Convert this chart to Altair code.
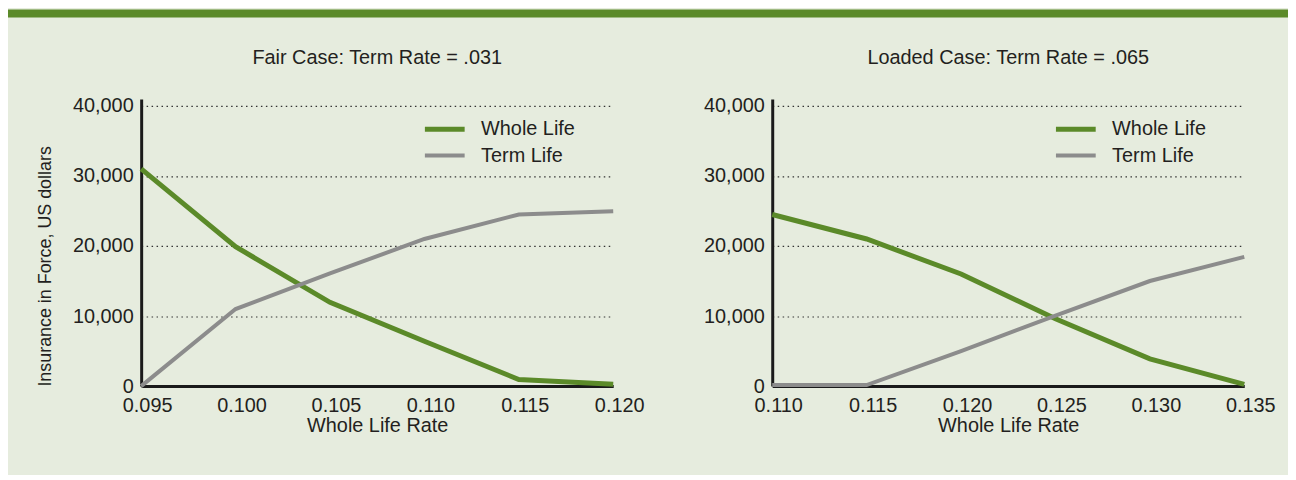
import altair as alt
import pandas as pd

series = ["Whole Life", "Term Life"]
fair_rates = [0.095, 0.100, 0.105, 0.110, 0.115, 0.120]
fair_whole = [31000, 19900, 11950, 6400, 950, 250]
fair_term = [0, 11000, 16100, 21000, 24500, 24950]
loaded_rates = [0.110, 0.115, 0.120, 0.125, 0.130, 0.135]
loaded_whole = [24500, 21000, 16000, 9600, 3900, 250]
loaded_term = [150, 150, 5000, 10050, 15000, 18450]
y_ticks = [0, 10000, 20000, 30000, 40000]

GREEN = "#5b8a29"
GRAY = "#8c8c8c"
BG = "#e6ecde"
TXT = "#231f20"
FONT = "Liberation Sans"
FS = 20
W, H = 475, 289


def make_df(rates, whole, term):
    rows = []
    for r, v in zip(rates, whole):
        rows.append({"rate": r, "value": v, "series": series[0]})
    for r, v in zip(rates, term):
        rows.append({"rate": r, "value": v, "series": series[1]})
    return pd.DataFrame(rows)


def panel(df, rates, title, ytitle, band):
    color = alt.Color(
        "series:N",
        sort=series,
        scale=alt.Scale(domain=series, range=[GREEN, GRAY]),
        legend=alt.Legend(
            title=None, orient="none", legendX=293, legendY=18,
            symbolType="M-2,0L2,0", symbolSize=400, symbolStrokeWidth=8,
            labelFontSize=FS, labelFont=FONT, labelColor=TXT,
            labelOffset=24, rowPadding=4, padding=0,
        ),
    )
    yaxis = alt.Axis(
        values=y_ticks, format=",d", grid=True, ticks=False,
        gridDash=[1.5, 3.5], gridColor="#333333", gridWidth=1.2,
        domainColor="#1a1a1a", domainWidth=3,
        labelFontSize=FS, labelFont=FONT, labelColor=TXT, labelPadding=8,
        title=ytitle if ytitle else None,
        titleFontSize=18, titleFont=FONT, titleColor=TXT, titleFontWeight="normal",
        titleAnchor="start", titlePadding=18,
    )
    xaxis = alt.Axis(
        values=rates, format=".3f", grid=False, ticks=False, labelFlush=False,
        labelOffset=6,
        domainColor="#1a1a1a", domainWidth=3,
        labelFontSize=FS, labelFont=FONT, labelColor=TXT, labelPadding=10,
        title="Whole Life Rate", titleFontSize=FS, titleFont=FONT, titleColor=TXT,
        titleFontWeight="normal", titlePadding=0,
    )
    line = alt.Chart(df).mark_line(strokeCap="butt").encode(
        x=alt.X("rate:Q", scale=alt.Scale(domain=[rates[0], rates[-1]], nice=False, zero=False), axis=xaxis),
        y=alt.Y("value:Q", scale=alt.Scale(domain=[0, 41000], nice=False), axis=yaxis),
        color=color,
        strokeWidth=alt.StrokeWidth("series:N", scale=alt.Scale(domain=series, range=[5, 4]), legend=None),
    )
    one = pd.DataFrame({"a": [0]})
    layers = []
    if band:
        layers.append(
            alt.Chart(one).mark_rect(color=GREEN).encode(
                x=alt.value(-134), x2=alt.value(1154), y=alt.value(-90), y2=alt.value(-82)
            )
        )
    layers.append(
        alt.Chart(one).mark_text(
            text=title, font=FONT, fontSize=FS, color=TXT, align="center", baseline="alphabetic"
        ).encode(x=alt.value(W / 2), y=alt.value(-35))
    )
    layers.append(line)
    return alt.layer(*layers).properties(width=W, height=H)


left = panel(make_df(fair_rates, fair_whole, fair_term), fair_rates,
             "Fair Case: Term Rate = .031", "Insurance in Force, US dollars", True)
right = panel(make_df(loaded_rates, loaded_whole, loaded_term), loaded_rates,
              "Loaded Case: Term Rate = .065", None, False)

chart = alt.hconcat(left, right, spacing=160, bounds="flush").resolve_scale(
    x="independent", y="independent", color="independent", strokeWidth="independent"
).resolve_legend(color="independent").properties(
    padding={"left": 0, "top": 0, "right": 0, "bottom": 38},
    background=BG,
).configure_view(stroke=None)

chart.save("out.html", embed_options={"renderer": "svg", "actions": False})
